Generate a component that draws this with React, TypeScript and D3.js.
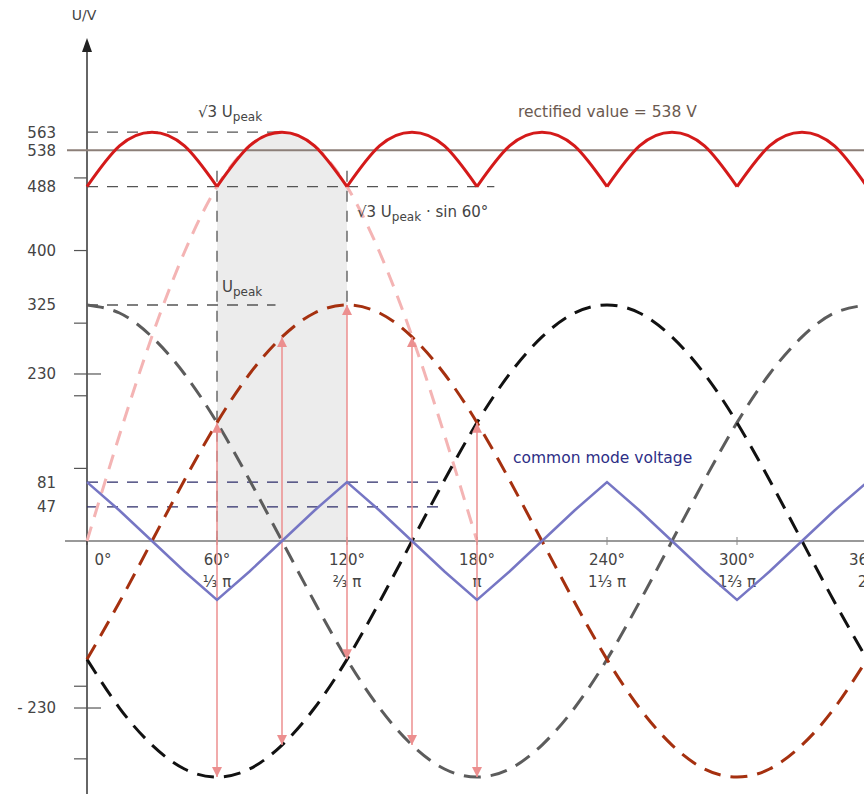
import { useEffect, useRef } from "react";
import * as d3 from "d3";

// angle grid in degrees and phase voltages
const angles = [0, 15, 30, 45, 60, 75, 90, 105, 120, 135, 150, 165, 180, 195, 210, 225, 240, 255, 270, 285, 300, 315, 330, 345, 360];
const phaseL1 = [325, 314, 281, 230, 163, 84, 0, -84, -163, -230, -281, -314, -325, -314, -281, -230, -163, -84, 0, 84, 163, 230, 281, 314, 325];
const phaseL2 = [-163, -84, 0, 84, 163, 230, 281, 314, 325, 314, 281, 230, 163, 84, 0, -84, -163, -230, -281, -314, -325, -314, -281, -230, -163];
const phaseL3 = [-163, -230, -281, -314, -325, -314, -281, -230, -163, -84, 0, 84, 163, 230, 281, 314, 325, 314, 281, 230, 163, 84, 0, -84, -163];
const rectified = [488, 544, 563, 544, 488, 544, 563, 544, 488, 544, 563, 544, 488, 544, 563, 544, 488, 544, 563, 544, 488, 544, 563, 544, 488];
const lineToLine = [0, 146, 282, 398, 488, 544, 563, 544, 488, 398, 282, 146, 0];
const commonMode = [81, 42, 0, -42, -81, -42, 0, 42, 81, 42, 0, -42, -81, -42, 0, 42, 81, 42, 0, -42, -81, -42, 0, 42, 81];

const yLabels = [563, 538, 488, 400, 325, 230, 81, 47, -230];
const yLabelText = ["563", "538", "488", "400", "325", "230", "81", "47", "- 230"];
const yMinorTicks = [500, 400, 300, 200, 100, -200, -300];
const xTicks = [0, 60, 120, 180, 240, 300, 360];
const xTickDeg = ["0°", "60°", "120°", "180°", "240°", "300°", "360°"];
const xTickRad = ["", "⅓ π", "⅔ π", "π", "1⅓ π", "1⅔ π", "2π"];

// line-to-line arrows: angle, upper and lower phase value
const arrowAngles = [60, 90, 120, 150, 180];
const arrowTop = [163, 281, 325, 281, 163];
const arrowBottom = [-325, -281, -163, -281, -325];

const rectifiedMean = 538;

export default function App() {
  const ref = useRef<SVGSVGElement>(null);

  useEffect(() => {
    const width = 864;
    const height = 794;
    const svg = d3.select(ref.current);
    svg.selectAll("*").remove();
    svg.attr("width", width).attr("height", height).attr("viewBox", `0 0 ${width} ${height}`);

    const x = d3.scaleLinear().domain([0, 360]).range([87, 867]);
    const y = d3.scaleLinear().domain([0, 325]).range([541, 305]);
    const font = "'DejaVu Sans', Verdana, sans-serif";

    const defs = svg.append("defs");
    defs
      .append("marker")
      .attr("id", "pinkhead")
      .attr("viewBox", "0 0 10 10")
      .attr("refX", 10)
      .attr("refY", 5)
      .attr("markerWidth", 10)
      .attr("markerHeight", 10)
      .attr("markerUnits", "userSpaceOnUse")
      .attr("orient", "auto-start-reverse")
      .append("path")
      .attr("d", "M0,0 L10,5 L0,10 Z")
      .attr("fill", "#ec8f8f");

    const curve = (vals: number[], angs: number[]) =>
      d3
        .line<number>()
        .x((_, i) => x(angs[i]))
        .y((d) => y(d))
        .curve(d3.curveNatural)(vals);

    // shaded area under the rectified arc between 60° and 120°
    const shadeIdx = [4, 5, 6, 7, 8];
    svg
      .append("path")
      .attr(
        "d",
        d3
          .area<number>()
          .x((i) => x(angles[i]))
          .y0(y(0))
          .y1((i) => y(rectified[i]))
          .curve(d3.curveNatural)(shadeIdx)
      )
      .attr("fill", "#ececec");

    // axes
    svg
      .append("line")
      .attr("x1", 65)
      .attr("x2", width)
      .attr("y1", y(0))
      .attr("y2", y(0))
      .attr("stroke", "#777")
      .attr("stroke-width", 1.5);
    svg
      .selectAll(".xtick")
      .data(xTicks)
      .join("line")
      .attr("x1", (d) => x(d))
      .attr("x2", (d) => x(d))
      .attr("y1", y(0) - 4)
      .attr("y2", y(0) + 4)
      .attr("stroke", "#888")
      .attr("stroke-width", 1);

    svg
      .append("line")
      .attr("x1", x(0))
      .attr("x2", x(0))
      .attr("y1", 48)
      .attr("y2", height)
      .attr("stroke", "#333")
      .attr("stroke-width", 1.5);
    svg
      .append("path")
      .attr("d", `M${x(0)},38 L${x(0) - 5},52 L${x(0) + 5},52 Z`)
      .attr("fill", "#222");
    svg
      .append("text")
      .attr("x", x(0) - 3)
      .attr("y", 20)
      .attr("text-anchor", "middle")
      .attr("fill", "#444")
      .style("font-family", font)
      .style("font-size", "14px")
      .text("U/V");

    svg
      .selectAll(".ytick")
      .data(yMinorTicks)
      .join("line")
      .attr("x1", x(0) - 13)
      .attr("x2", x(0))
      .attr("y1", (d) => y(d))
      .attr("y2", (d) => y(d))
      .attr("stroke", "#555")
      .attr("stroke-width", 1.2);
    svg
      .selectAll(".ytick230")
      .data([230, -230])
      .join("line")
      .attr("x1", x(0) - 13)
      .attr("x2", x(0) + 14)
      .attr("y1", (d) => y(d))
      .attr("y2", (d) => y(d))
      .attr("stroke", "#555")
      .attr("stroke-width", 1.2);

    svg
      .selectAll(".ylabel")
      .data(yLabels)
      .join("text")
      .attr("x", 56)
      .attr("y", (d) => y(d))
      .attr("dy", "0.36em")
      .attr("text-anchor", "end")
      .attr("fill", "#444")
      .style("font-family", font)
      .style("font-size", "15px")
      .text((_, i) => yLabelText[i]);

    // x labels
    svg
      .selectAll(".xdeg")
      .data(xTicks)
      .join("text")
      .attr("x", (d) => (d === 0 ? x(d) + 16 : x(d)))
      .attr("y", 565)
      .attr("text-anchor", "middle")
      .attr("fill", "#444")
      .style("font-family", font)
      .style("font-size", "15px")
      .text((_, i) => xTickDeg[i]);
    svg
      .selectAll(".xrad")
      .data(xTicks)
      .join("text")
      .attr("x", (d) => x(d))
      .attr("y", 587)
      .attr("text-anchor", "middle")
      .attr("fill", "#444")
      .style("font-family", font)
      .style("font-size", "15px")
      .text((_, i) => xTickRad[i]);

    // rectified mean
    svg
      .append("line")
      .attr("x1", 67)
      .attr("x2", width)
      .attr("y1", y(rectifiedMean))
      .attr("y2", y(rectifiedMean))
      .attr("stroke", "#8c7f78")
      .attr("stroke-width", 2);

    // dashed guide lines
    const guide = (v: number, a0: number, a1: number, color: string) =>
      svg
        .append("line")
        .attr("x1", x(a0))
        .attr("x2", x(a1))
        .attr("y1", y(v))
        .attr("y2", y(v))
        .attr("stroke", color)
        .attr("stroke-width", 1.3)
        .attr("stroke-dasharray", "11 9");
    guide(563, 0, 91, "#555");
    guide(488, 0, 188, "#555");
    guide(325, 0, 87, "#555");
    guide(81, 0, 163, "#2c2c6a");
    guide(47, 0, 163, "#2c2c6a");

    const vguide = (a: number, v0: number, v1: number) =>
      svg
        .append("line")
        .attr("x1", x(a))
        .attr("x2", x(a))
        .attr("y1", y(v0))
        .attr("y2", y(v1))
        .attr("stroke", "#555")
        .attr("stroke-width", 1.3)
        .attr("stroke-dasharray", "11 9");
    vguide(60, 510, 0);
    vguide(120, 510, 325);

    // line-to-line voltage (pink dashed)
    svg
      .append("path")
      .attr("d", curve(lineToLine, angles.slice(0, lineToLine.length)))
      .attr("fill", "none")
      .attr("stroke", "#f4b4b4")
      .attr("stroke-width", 3)
      .attr("stroke-dasharray", "15 10");

    // phase voltages
    const phases = [
      { vals: phaseL1, color: "#5c5c5c" },
      { vals: phaseL3, color: "#111111" },
      { vals: phaseL2, color: "#a5300f" },
    ];
    phases.forEach((p) => {
      svg
        .append("path")
        .attr("d", curve(p.vals, angles))
        .attr("fill", "none")
        .attr("stroke", p.color)
        .attr("stroke-width", 3)
        .attr("stroke-dasharray", "17 10");
    });

    // arrows
    svg
      .selectAll(".arrow")
      .data(arrowAngles)
      .join("line")
      .attr("x1", (d) => x(d))
      .attr("x2", (d) => x(d))
      .attr("y1", (_, i) => y(arrowTop[i]))
      .attr("y2", (_, i) => y(arrowBottom[i]))
      .attr("stroke", "#ec8f8f")
      .attr("stroke-width", 1.5)
      .attr("marker-start", "url(#pinkhead)")
      .attr("marker-end", "url(#pinkhead)");

    // common mode voltage
    svg
      .append("path")
      .attr(
        "d",
        d3
          .line<number>()
          .x((_, i) => x(angles[i]))
          .y((d) => y(d))(commonMode)
      )
      .attr("fill", "none")
      .attr("stroke", "#7676c4")
      .attr("stroke-width", 2.5);

    // rectified output, one arc per 60°
    for (let s = 0; s + 4 < angles.length; s += 4) {
      const idx = [s, s + 1, s + 2, s + 3, s + 4];
      svg
        .append("path")
        .attr("d", curve(idx.map((i) => rectified[i]), idx.map((i) => angles[i])))
        .attr("fill", "none")
        .attr("stroke", "#d41a1a")
        .attr("stroke-width", 3);
    }

    // annotations
    const label = (tx: number, ty: number, parts: [string, boolean][], color = "#444", size = 15) => {
      const t = svg
        .append("text")
        .attr("x", tx)
        .attr("y", ty)
        .attr("fill", color)
        .style("font-family", font)
        .style("font-size", `${size}px`);
      parts.forEach(([s, sub]) => {
        t.append("tspan")
          .attr("baseline-shift", sub ? "-30%" : null)
          .style("font-size", sub ? `${size - 3}px` : null)
          .text(s);
      });
    };
    label(198, 117, [["√3 U", false], ["peak", true]]);
    label(357, 217, [["√3 U", false], ["peak", true], [" · sin 60°", false]]);
    label(222, 292, [["U", false], ["peak", true]]);
    label(518, 117, [["rectified value = 538 V", false]], "#6b5a50", 15.5);
    label(513, 463, [["common mode voltage", false]], "#2e2e86", 15.5);
  }, []);

  return (
    <svg
      ref={ref}
      style={{ position: "absolute", left: 0, top: 0, background: "#fff" }}
      role="img"
      aria-label="Six-pulse rectifier voltages"
    />
  );
}
